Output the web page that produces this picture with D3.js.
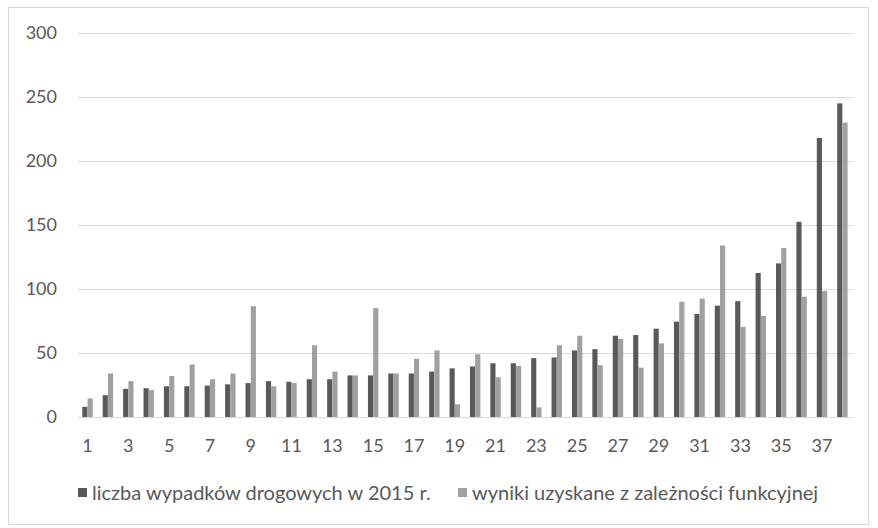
<!DOCTYPE html>
<html>
<head>
<meta charset="utf-8">
<script src="https://cdn.jsdelivr.net/npm/d3@7"></script>
<style>
  html, body { margin: 0; padding: 0; background: #fff; }
  svg { display: block; }
  text { font-family: Lato, "Open Sans", sans-serif; fill: #595959; }
</style>
</head>
<body>
<svg id="chart" width="878" height="528"></svg>
<script>
// Road accidents per district in 2015 vs. values from the fitted function
const categories = d3.range(1, 39).map(String);
const accidents2015 = [8, 17, 22, 22.5, 24, 24, 24.5, 25.5, 26.5, 28,
  27.5, 29.5, 29.5, 32.5, 32.5, 34, 34, 35.5, 38, 39.5,
  42, 42, 46, 46.5, 52, 53, 63.5, 64, 69, 74.5,
  80.5, 87, 90.5, 112.5, 120, 152.5, 218, 245];
const modelResults = [14.5, 34, 28, 21, 32, 41, 29.5, 34, 86.5, 24,
  26.5, 56, 35.5, 32.5, 85, 34, 45.5, 52, 10, 49,
  31, 40, 7.5, 56, 63.5, 40.5, 61, 38.5, 57.5, 90,
  92.5, 134, 70.5, 79, 132, 94, 98.5, 230];
const seriesNames = ["liczba wypadków drogowych w 2015 r.", "wyniki uzyskane z zależności funkcyjnej"];
const seriesColors = ["#595959", "#a0a0a0"];
const yTicks = [0, 50, 100, 150, 200, 250, 300];

const svg = d3.select("#chart");
const plot = { left: 77.3, right: 852.6, top: 33, bottom: 417 };

// outer frame
svg.append("rect")
  .attr("x", 8.5).attr("y", 7.5)
  .attr("width", 860).attr("height", 517)
  .attr("fill", "#fff").attr("stroke", "#d9d9d9").attr("stroke-width", 1);

const y = d3.scaleLinear().domain([0, 300]).range([plot.bottom, plot.top]);
const x0 = d3.scaleBand().domain(categories)
  .range([plot.left, plot.right]).paddingInner(0.48).paddingOuter(0.24);
const x1 = d3.scaleBand().domain([0, 1]).range([0, x0.bandwidth()]).padding(0.02);

// gridlines
svg.append("g")
  .selectAll("line").data(yTicks.filter(d => d > 0)).join("line")
  .attr("x1", plot.left).attr("x2", plot.right)
  .attr("y1", d => Math.round(y(d)) + 0.5).attr("y2", d => Math.round(y(d)) + 0.5)
  .attr("stroke", "#d9d9d9").attr("stroke-width", 1.2);

// y axis labels
const yAxis = d3.axisLeft(y).tickValues(yTicks).tickSize(0).tickPadding(0);
const gy = svg.append("g").attr("transform", "translate(57,0)").call(yAxis);
gy.select(".domain").remove();
gy.selectAll("text").attr("font-size", 18).attr("fill", "#595959")
  .style("font-family", "Lato, 'Open Sans', sans-serif");

// bars
const series = [accidents2015, modelResults];
const groups = svg.append("g").selectAll("g").data(categories).join("g")
  .attr("transform", d => `translate(${x0(d)},0)`);
groups.selectAll("rect")
  .data((d, i) => series.map((s, k) => ({ k, v: s[i] })))
  .join("rect")
  .attr("x", d => x1(d.k))
  .attr("width", x1.bandwidth())
  .attr("y", d => y(d.v))
  .attr("height", d => y(0) - y(d.v))
  .attr("fill", d => seriesColors[d.k]);

// x axis line and labels (every second category)
svg.append("line")
  .attr("x1", plot.left).attr("x2", plot.right)
  .attr("y1", plot.bottom + 0.5).attr("y2", plot.bottom + 0.5)
  .attr("stroke", "#d9d9d9").attr("stroke-width", 1.2);
const xAxis = d3.axisBottom(x0)
  .tickValues(categories.filter((d, i) => i % 2 === 0))
  .tickSize(0).tickPadding(0);
const gx = svg.append("g").attr("transform", `translate(0,${plot.bottom + 22})`).call(xAxis);
gx.select(".domain").remove();
gx.selectAll("text").attr("font-size", 18).attr("fill", "#595959")
  .style("font-family", "Lato, 'Open Sans', sans-serif");

// legend
const legend = svg.append("g").attr("transform", "translate(0,500)");
const legendX = [78, 458];
seriesNames.forEach((name, k) => {
  legend.append("rect").attr("x", legendX[k]).attr("y", -12)
    .attr("width", 9).attr("height", 9).attr("fill", seriesColors[k]);
  legend.append("text").attr("x", legendX[k] + 14).attr("y", 0)
    .attr("font-size", 20).text(name);
});
</script>
</body>
</html>
